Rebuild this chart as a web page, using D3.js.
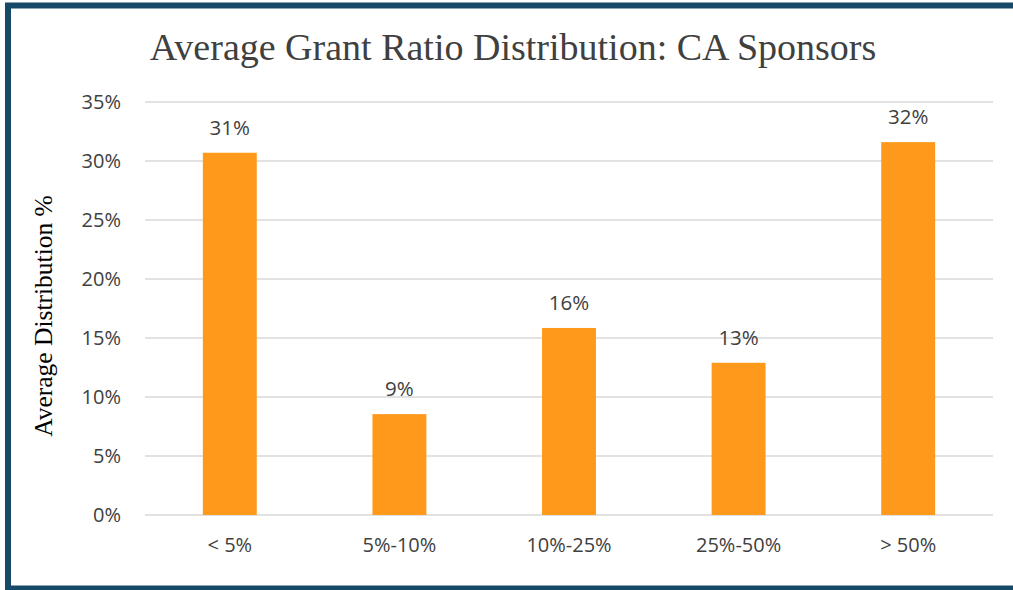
<!DOCTYPE html>
<html>
<head>
<meta charset="utf-8">
<script src="https://cdn.jsdelivr.net/npm/d3@7"></script>
<style>
  body { margin: 0; background: #fff; }
  svg { display: block; }
</style>
</head>
<body>
<div id="chart"></div>
<script>
const categories = ["< 5%", "5%-10%", "10%-25%", "25%-50%", "> 50%"];
const values = [30.7, 8.55, 15.85, 12.9, 31.6];
const labels = ["31%", "9%", "16%", "13%", "32%"];
const yTicks = [0, 5, 10, 15, 20, 25, 30, 35];

const width = 1013;
const height = 590;
const margin = { top: 102, right: 20, bottom: 75, left: 145 };

const svg = d3.select('#chart')
    .append('svg')
    .attr('width', width)
    .attr('height', height);

// frame
svg.append('rect')
    .attr('x', 8)
    .attr('y', 5.5)
    .attr('width', 1100)
    .attr('height', 583)
    .attr('fill', 'none')
    .attr('stroke', '#174a69')
    .attr('stroke-width', 6);

const xScale = d3.scaleBand()
    .domain(categories)
    .range([margin.left, width - margin.right])
    .paddingInner(0.682)
    .paddingOuter(0.341);

const yScale = d3.scaleLinear()
    .domain([0, 35])
    .range([height - margin.bottom, margin.top]);

// gridlines
svg.append('g')
    .selectAll('line')
    .data(yTicks)
    .enter()
    .append('line')
    .attr('x1', margin.left)
    .attr('x2', width - margin.right)
    .attr('y1', d => yScale(d))
    .attr('y2', d => yScale(d))
    .attr('stroke', '#d9d9d9')
    .attr('stroke-width', 1.5);

const yAxis = d3.axisLeft(yScale)
    .tickValues(yTicks)
    .tickFormat(d => d + '%')
    .tickSize(0)
    .tickPadding(24);

svg.append('g')
    .attr('transform', `translate(${margin.left}, 0)`)
    .call(yAxis)
    .call(g => g.select('.domain').remove())
    .selectAll('text')
    .attr('font-family', 'Open Sans, sans-serif')
    .attr('font-size', 20)
    .attr('fill', '#404040');

const xAxis = d3.axisBottom(xScale)
    .tickSize(0)
    .tickPadding(23);

svg.append('g')
    .attr('transform', `translate(0, ${height - margin.bottom})`)
    .call(xAxis)
    .call(g => g.select('.domain').remove())
    .selectAll('text')
    .attr('font-family', 'Open Sans, sans-serif')
    .attr('font-size', 20)
    .attr('fill', '#404040');

// bars
svg.selectAll('.bar')
    .data(values)
    .enter()
    .append('rect')
    .attr('class', 'bar')
    .attr('x', (d, i) => xScale(categories[i]))
    .attr('y', d => yScale(d))
    .attr('width', xScale.bandwidth())
    .attr('height', d => yScale(0) - yScale(d))
    .attr('fill', '#ff991c');

// data labels
svg.selectAll('.label')
    .data(values)
    .enter()
    .append('text')
    .attr('class', 'label')
    .attr('x', (d, i) => xScale(categories[i]) + xScale.bandwidth() / 2)
    .attr('y', d => yScale(d) - 18)
    .attr('text-anchor', 'middle')
    .attr('font-family', 'Open Sans, sans-serif')
    .attr('font-size', 20.5)
    .attr('fill', '#404040')
    .text((d, i) => labels[i]);

// title
svg.append('text')
    .attr('x', 513)
    .attr('y', 60)
    .attr('text-anchor', 'middle')
    .attr('font-family', 'Liberation Serif, Times New Roman, serif')
    .attr('font-size', 38)
    .attr('fill', '#404040')
    .text('Average Grant Ratio Distribution: CA Sponsors');

// y axis title
svg.append('text')
    .attr('transform', 'translate(52, 316) rotate(-90)')
    .attr('text-anchor', 'middle')
    .attr('font-family', 'Liberation Serif, Times New Roman, serif')
    .attr('font-size', 25.5)
    .attr('fill', '#000')
    .text('Average Distribution %');
</script>
</body>
</html>
